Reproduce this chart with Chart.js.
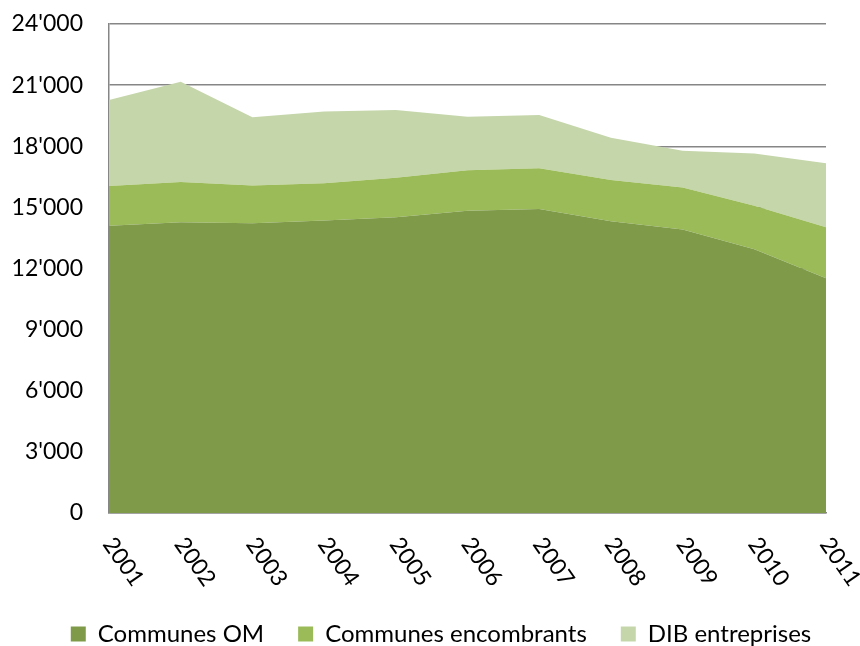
<!DOCTYPE html>
<html>
<head>
<meta charset="utf-8">
<script src="https://cdn.jsdelivr.net/npm/chart.js@4"></script>
<style>
  html, body { margin: 0; padding: 0; background: #fff; }
  #wrap { width: 860px; height: 646px; }
</style>
</head>
<body>
<div id="wrap"><canvas id="wasteChart"></canvas></div>
<script>
const years = ['2001', '2002', '2003', '2004', '2005', '2006', '2007', '2008', '2009', '2010', '2011'];
const communesOM = [14100, 14270, 14220, 14350, 14510, 14840, 14920, 14320, 13920, 12940, 11520];
const communesEncombrants = [1950, 1980, 1850, 1830, 1950, 1980, 2000, 2020, 2050, 2140, 2500];
const dibEntreprises = [4220, 4920, 3350, 3520, 3320, 2630, 2610, 2080, 1810, 2570, 3140];
const yTicks = [0, 3000, 6000, 9000, 12000, 15000, 18000, 21000, 24000];

const FONT = 'Lato, "Open Sans", sans-serif';
const axisGrey = '#868686';

// x labels run down to the right, which Chart.js can't rotate that way on its own
const slantedLabels = {
  id: 'slantedLabels',
  afterLayout(chart) {
    // nudge the legend so it sits centred like the original
    chart.legend.left += 28;
    chart.legend.right += 28;
  },
  afterDraw(chart) {
    const xs = chart.scales.x;
    const ctx = chart.ctx;
    ctx.save();
    ctx.font = '23px ' + FONT;
    ctx.fillStyle = '#000';
    ctx.textAlign = 'left';
    ctx.textBaseline = 'middle';
    years.forEach((yr, i) => {
      const x = xs.getPixelForValue(i);
      ctx.save();
      ctx.translate(x - 1, xs.top + 27);
      ctx.rotate(55 * Math.PI / 180);
      ctx.fillText(yr, 0, 0);
      ctx.restore();
    });
    ctx.restore();
  }
};

document.addEventListener('DOMContentLoaded', function () {
  const ctx = document.getElementById('wasteChart').getContext('2d');

  const datasets = [
    {
      label: 'Communes OM',
      data: communesOM,
      backgroundColor: '#7F9B4A',
      borderColor: '#7F9B4A',
      fill: 'origin',
    },
    {
      label: 'Communes encombrants',
      data: communesEncombrants,
      backgroundColor: '#9BBB59',
      borderColor: '#9BBB59',
      fill: '-1',
    },
    {
      label: 'DIB entreprises',
      data: dibEntreprises,
      backgroundColor: '#C5D6AB',
      borderColor: '#C5D6AB',
      fill: '-1',
    },
  ];

  new Chart(ctx, {
    type: 'line',
    data: { labels: years, datasets: datasets },
    options: {
      responsive: true,
      maintainAspectRatio: false,
      animation: false,
      elements: {
        point: { radius: 0, hoverRadius: 0 },
        line: { borderWidth: 0, tension: 0 },
      },
      layout: {
        padding: { left: 0, right: 34, top: 24, bottom: -10 },
      },
      plugins: {
        legend: {
          display: true,
          position: 'bottom',
          labels: {
            color: '#000',
            boxWidth: 15,
            boxHeight: 15,
            padding: 34,
            font: { family: FONT, size: 24 },
          },
        },
        tooltip: { enabled: false },
      },
      scales: {
        x: {
          type: 'category',
          offset: false,
          grid: { display: false },
          border: { display: true, color: axisGrey, width: 1.5 },
          ticks: { display: false },
          afterFit: function (scale) { scale.height = 75; },
        },
        y: {
          stacked: true,
          min: 0,
          max: 24000,
          afterBuildTicks: function (scale) {
            scale.ticks = yTicks.map(v => ({ value: v }));
          },
          afterFit: function (scale) { scale.width = 109; },
          ticks: {
            color: '#000',
            padding: 0,
            font: { family: FONT, size: 23 },
            callback: function (v) {
              return String(v).replace(/\B(?=(\d{3})+(?!\d))/g, "'");
            },
          },
          grid: {
            color: axisGrey,
            lineWidth: 1.5,
            drawTicks: true,
            tickLength: 26,
            tickColor: 'rgba(0,0,0,0)',
          },
          border: { display: true, color: axisGrey, width: 1.5 },
        },
      },
    },
    plugins: [slantedLabels],
  });
});
</script>
</body>
</html>
